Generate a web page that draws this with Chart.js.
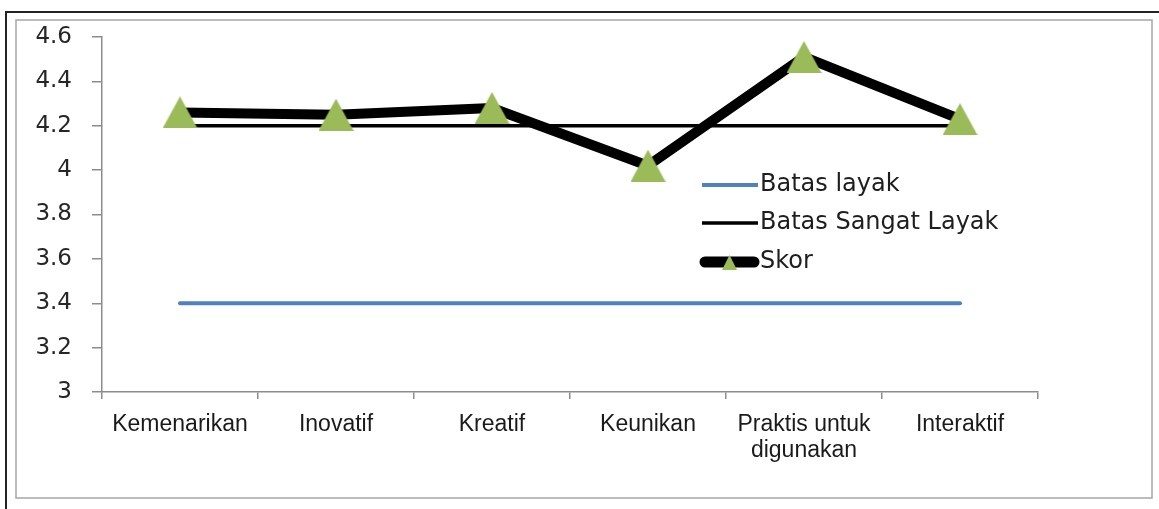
<!DOCTYPE html>
<html>
<head>
<meta charset="utf-8">
<script src="https://cdn.jsdelivr.net/npm/chart.js@4/dist/chart.umd.min.js"></script>
<style>
  html, body { margin: 0; padding: 0; background: #fff; }
  canvas { display: block; }
</style>
</head>
<body>
<canvas id="myChart" width="1159" height="509"></canvas>
<script>
// data
const categories = ['Kemenarikan', 'Inovatif', 'Kreatif', 'Keunikan', ['Praktis untuk', 'digunakan'], 'Interaktif'];
const batasLayak = [3.4, 3.4, 3.4, 3.4, 3.4, 3.4];
const batasSangatLayak = [4.2, 4.2, 4.2, 4.2, 4.2, 4.2];
const skor = [4.26, 4.25, 4.28, 4.02, 4.51, 4.23];
const yMin = 3, yMax = 4.6, yStep = 0.2;

const GREEN = '#9bbb59';
const BLUE = '#4f81bd';

// green triangle marker, centred like the Excel one
function triangle(w, h) {
    const c = document.createElement('canvas');
    c.width = w; c.height = h;
    const g = c.getContext('2d');
    g.fillStyle = GREEN;
    g.beginPath();
    g.moveTo(0, h);
    g.lineTo(w / 2, 0);
    g.lineTo(w, h);
    g.closePath();
    g.fill();
    return c;
}

const framePlugin = {
    id: 'frame',
    beforeDraw(chart) {
        const ctx = chart.ctx;
        ctx.save();
        ctx.fillStyle = '#fff';
        ctx.fillRect(0, 0, chart.width, chart.height);
        ctx.strokeStyle = '#222';
        ctx.lineWidth = 2;
        ctx.beginPath();
        ctx.moveTo(6, chart.height);
        ctx.lineTo(6, 12);
        ctx.lineTo(chart.width, 12);
        ctx.stroke();
        ctx.strokeStyle = '#a6a6a6';
        ctx.lineWidth = 1.5;
        ctx.strokeRect(16, 20, 1136, 478);
        ctx.restore();
    }
};

// legend placed inside the plot like the original
const legendPlugin = {
    id: 'insideLegend',
    afterDraw(chart) {
        const ctx = chart.ctx;
        const ds = chart.data.datasets;
        const rows = [185, 223, 262];
        ctx.save();
        ctx.font = '24px "DejaVu Sans"';
        ctx.fillStyle = '#1e1e1e';
        ctx.textBaseline = 'middle';
        ds.forEach((d, i) => {
            const y = rows[i];
            ctx.strokeStyle = d.borderColor;
            ctx.lineWidth = i === 2 ? 11 : d.borderWidth;
            ctx.lineCap = i === 2 ? 'round' : 'butt';
            ctx.beginPath();
            ctx.moveTo(i === 2 ? 705 : 702, y);
            ctx.lineTo(i === 2 ? 754 : 758, y);
            ctx.stroke();
            if (i === 2) {
                ctx.drawImage(triangle(15, 15), 722, y - 7);
            }
            ctx.fillText(d.label, 760, y);
        });
        ctx.restore();
    }
};

new Chart(document.getElementById('myChart'), {
    type: 'line',
    data: {
        labels: categories,
        datasets: [
            {
                label: 'Batas layak',
                data: batasLayak,
                borderColor: BLUE,
                borderWidth: 4,
                borderCapStyle: 'round',
                pointRadius: 0,
                order: 2
            },
            {
                label: 'Batas Sangat Layak',
                data: batasSangatLayak,
                borderColor: '#000',
                borderWidth: 3.5,
                pointRadius: 0,
                order: 1
            },
            {
                label: 'Skor',
                data: skor,
                borderColor: '#000',
                borderWidth: 10,
                borderJoinStyle: 'round',
                pointStyle: triangle(35, 32),
                pointRadius: 16,
                order: 0
            }
        ]
    },
    options: {
        responsive: false,
        animation: false,
        events: [],
        layout: { padding: { left: 16, right: 121, top: 37, bottom: 37 } },
        plugins: {
            legend: { display: false },
            tooltip: { enabled: false }
        },
        scales: {
            x: {
                offset: true,
                grid: { offset: true, drawOnChartArea: false, tickLength: 7, color: '#8c8c8c', lineWidth: 1.5 },
                border: { color: '#8c8c8c', width: 1.5 },
                ticks: {
                    font: { family: '"Liberation Sans"', size: 23, lineHeight: 1.15 },
                    color: '#1a1a1a',
                    padding: 12,
                    maxRotation: 0,
                    autoSkip: false
                },
                afterFit(s) { s.height = 80; }
            },
            y: {
                min: yMin,
                max: yMax,
                grid: { drawOnChartArea: false, tickLength: 10, color: '#8c8c8c', lineWidth: 1.5 },
                border: { color: '#8c8c8c', width: 1.5 },
                ticks: {
                    stepSize: yStep,
                    padding: 20,
                    font: { family: '"DejaVu Sans"', size: 23 },
                    color: '#262626',
                    callback: v => String(Number(v.toFixed(1)))
                },
                afterFit(s) { s.width = 86; }
            }
        }
    },
    plugins: [framePlugin, legendPlugin]
});
</script>
</body>
</html>
